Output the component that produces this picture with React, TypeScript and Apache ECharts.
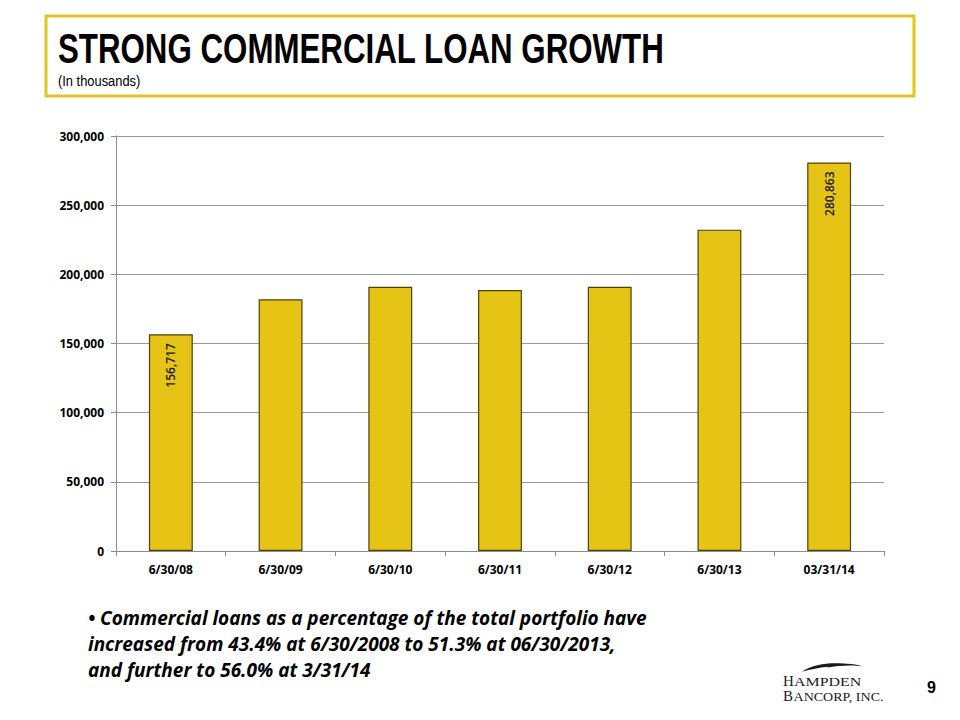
import React, { useEffect, useRef } from "react";
import * as echarts from "echarts";

const categories = ["6/30/08", "6/30/09", "6/30/10", "6/30/11", "6/30/12", "6/30/13", "03/31/14"];
const loanValues = [156717, 182000, 191000, 188700, 191000, 232300, 280863];
const labeledIndexes = [0, 6];
const yTicks = [0, 50000, 100000, 150000, 200000, 250000, 300000];

const titleText = "STRONG COMMERCIAL LOAN GROWTH";
const subtitleText = "(In thousands)";
const bulletLines = [
  "• Commercial loans as a percentage of the total portfolio have",
  "increased from 43.4% at 6/30/2008 to 51.3% at 06/30/2013,",
  "and further to 56.0% at 3/31/14",
];
const pageNumber = "9";
const logoLine1 = ["H", "AMPDEN"];
const logoLine2 = ["B", "ANCORP, INC."];

const swooshPath =
  "M0 24 C 30 0, 80 -3, 112 5 C 82 6, 40 12, 0 24 Z M 56 13 C 80 0, 118 -2, 140 9 C 118 5, 88 6, 56 13 Z";

export default function App() {
  const ref = useRef<HTMLDivElement>(null);
  useEffect(() => {
    if (!ref.current) return;
    try {
      echarts.graphic.registerShape("swoosh", echarts.graphic.extendPath(swooshPath, {}));
    } catch (e) {}
    const chart = echarts.init(ref.current, null, { renderer: "svg" });
    const fmt = (v: number) => v.toLocaleString("en-US");
    const serif = "'Liberation Serif', 'Times New Roman', serif";
    chart.setOption({
      animation: false,
      backgroundColor: "#ffffff",
      grid: { left: 116, right: 76, top: 136, bottom: 169 },
      xAxis: {
        type: "category",
        data: categories,
        axisLine: { lineStyle: { color: "#8c8c8c" } },
        axisTick: { show: true, length: 5, lineStyle: { color: "#8c8c8c" } },
        axisLabel: {
          color: "#000",
          fontFamily: "Open Sans",
          fontWeight: "bold",
          fontSize: 12,
          margin: 12,
        },
      },
      yAxis: {
        type: "value",
        min: 0,
        max: 300000,
        interval: 50000,
        axisLine: { show: true, lineStyle: { color: "#8c8c8c" } },
        axisTick: { show: true, length: 5, lineStyle: { color: "#8c8c8c" } },
        splitLine: { lineStyle: { color: "#9a9a9a" } },
        axisLabel: {
          color: "#000",
          fontFamily: "Open Sans",
          fontWeight: "bold",
          fontSize: 12,
          margin: 12,
          formatter: (v: number) => (yTicks.includes(v) ? fmt(v) : ""),
        },
      },
      series: [
        {
          type: "bar",
          barWidth: "40%",
          data: loanValues.map((v, i) => ({
            value: v,
            label: {
              show: labeledIndexes.includes(i),
              position: "insideTop",
              rotate: 90,
              align: "right",
              verticalAlign: "middle",
              distance: 9,
              color: "#1a1a1a",
              fontFamily: "Open Sans",
              fontWeight: 600,
              fontSize: 12,
              formatter: () => fmt(v),
            },
          })),
          itemStyle: { color: "#E5C416", borderColor: "#4d4310", borderWidth: 1.2 },
        },
      ],
      graphic: [
        {
          type: "rect",
          shape: { x: 46, y: 16, width: 868, height: 80 },
          style: { fill: "none", stroke: "#E2C51E", lineWidth: 3 },
        },
        {
          type: "text",
          x: 58,
          y: 69,
          scaleX: 0.745,
          style: {
            text: titleText,
            x: 0,
            y: 0,
            textVerticalAlign: "bottom",
            fill: "#000",
            font: "bold 42px 'Liberation Sans', Arial, sans-serif",
          },
        },
        {
          type: "text",
          x: 58,
          y: 73,
          scaleX: 0.86,
          style: {
            text: subtitleText,
            x: 0,
            y: 0,
            fill: "#000",
            font: "15px 'Liberation Sans', Arial, sans-serif",
          },
        },
        ...bulletLines.map((line, i) => ({
          type: "text",
          left: 88,
          top: 608 + i * 26,
          style: {
            text: line,
            fill: "#000",
            font: "italic bold 19px 'Open Sans', sans-serif",
          },
        })),
        {
          type: "swoosh",
          x: 802,
          y: 663,
          scaleX: 0.43,
          scaleY: 0.36,
          style: { fill: "#1a1a1a" },
        },
        {
          type: "text",
          x: 783,
          y: 673,
          style: { text: logoLine1[0], x: 0, y: 0, fill: "#1a1a1a", font: "15px " + serif },
        },
        {
          type: "text",
          x: 794,
          y: 675.5,
          scaleX: 1.33,
          style: { text: logoLine1[1], x: 0, y: 0, fill: "#1a1a1a", font: "12px " + serif },
        },
        {
          type: "text",
          x: 783,
          y: 688,
          style: { text: logoLine2[0], x: 0, y: 0, fill: "#1a1a1a", font: "15px " + serif },
        },
        {
          type: "text",
          x: 793.5,
          y: 690.5,
          scaleX: 1.17,
          style: { text: logoLine2[1], x: 0, y: 0, fill: "#1a1a1a", font: "12px " + serif },
        },
        {
          type: "text",
          left: 927,
          top: 679,
          style: {
            text: pageNumber,
            fill: "#000",
            font: "bold 16px 'Liberation Sans', Arial, sans-serif",
          },
        },
      ],
    });
    return () => chart.dispose();
  }, []);
  return (
    <div
      ref={ref}
      style={{ position: "fixed", left: 0, top: 0, width: 960, height: 720, background: "#fff" }}
    />
  );
}
